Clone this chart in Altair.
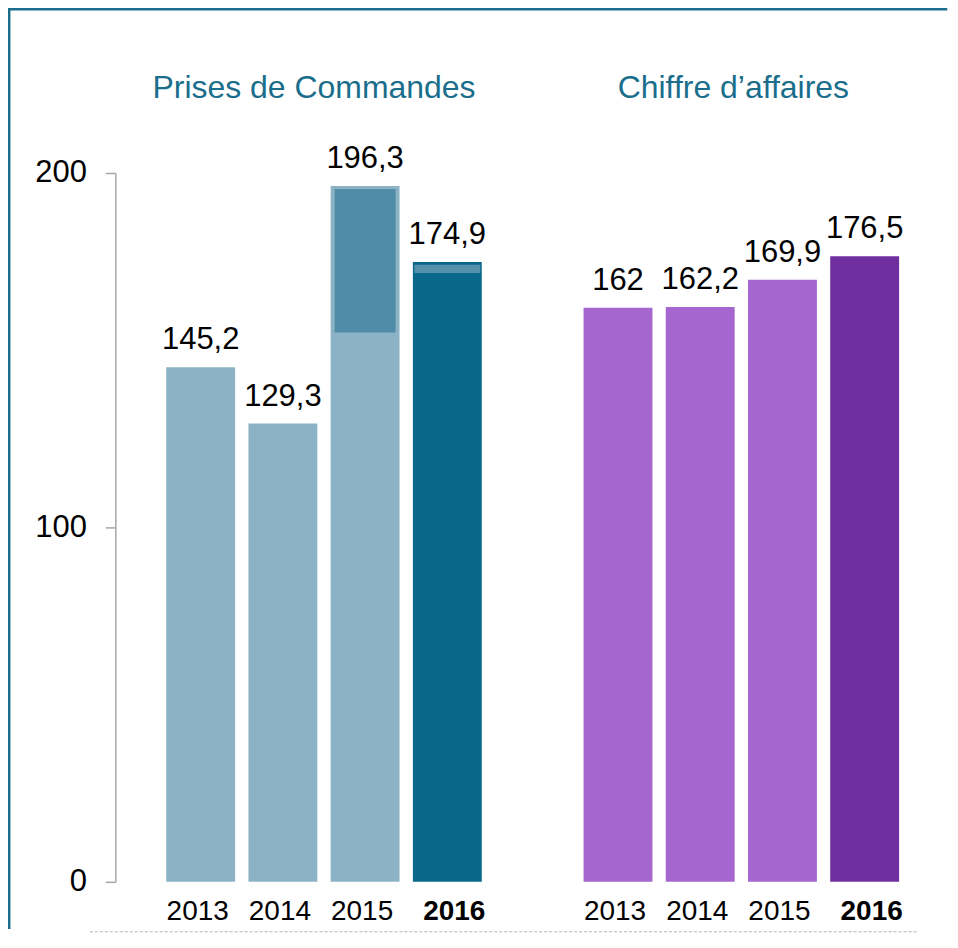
import altair as alt
import pandas as pd

# ---- data ----
years = ["2013", "2014", "2015", "2016"]

commandes = [145.2, 129.3, 196.3, 174.9]
commandes_labels = ["145,2", "129,3", "196,3", "174,9"]
commandes_colors = ["#8bb3c5", "#8bb3c5", "#8bb3c5", "#086889"]

ca = [162.0, 162.2, 169.9, 176.5]
ca_labels = ["162", "162,2", "169,9", "176,5"]
ca_colors = ["#a566d0", "#a566d0", "#a566d0", "#6f2f9f"]

# inner segments drawn inside the order-intake bars
seg_years = ["2015", "2016"]
seg_low = [155.0, 171.8]
seg_high = [195.5, 174.1]

title_left = "Prises de Commandes"
title_right = "Chiffre d’affaires"
y_ticks = [0, 100, 200]

FONT = "Liberation Sans"
TEAL = "#1a6e8c"

df_l = pd.DataFrame({"year": years, "value": commandes, "label": commandes_labels, "color": commandes_colors})
df_r = pd.DataFrame({"year": years, "value": ca, "label": ca_labels, "color": ca_colors})
df_seg = pd.DataFrame({"year": seg_years, "low": seg_low, "high": seg_high})
one = pd.DataFrame({"k": [0]})

W, H = 418, 710


def xenc():
    return alt.X(
        "year:N",
        sort=years,
        scale=alt.Scale(domain=years, paddingInner=0.162, paddingOuter=0.619),
        axis=alt.Axis(
            title=None, labelAngle=0, ticks=False, tickSize=0, domain=False,
            labelPadding=16, labelFontSize=28, labelFont=FONT, labelColor="black",
            labelFontWeight=alt.condition("datum.value == '2016'", alt.value("bold"), alt.value("normal")),
            labelOffset=alt.condition("datum.value == '2016'", alt.value(7), alt.value(-3)),
        ),
    )


def yscale():
    return alt.Scale(domain=[0, 200], nice=False, zero=True)


yaxis_left = alt.Axis(
    values=y_ticks, title=None, grid=False, labelFontSize=31, labelFont=FONT,
    labelColor="black", tickSize=10, labelPadding=19, domainColor="#a6a6a6",
    tickColor="#a6a6a6", domainWidth=1.5, tickWidth=1.5,
)


def panel(df, title_text, title_x, with_axis, extras):
    base = alt.Chart(df)
    yax = yaxis_left if with_axis else None
    bars = base.mark_bar().encode(
        x=xenc(),
        y=alt.Y("value:Q", scale=yscale(), axis=yax),
        color=alt.Color("color:N", scale=None),
    )
    labels = base.mark_text(dy=-18, baseline="alphabetic", fontSize=31, font=FONT, color="black").encode(
        x=xenc(),
        y=alt.Y("value:Q", scale=yscale()),
        text="label:N",
    )
    ttl = alt.Chart(pd.DataFrame({"t": [title_text]})).mark_text(
        fontSize=32, font=FONT, color=TEAL, align="center", baseline="alphabetic"
    ).encode(text="t:N", x=alt.value(title_x), y=alt.value(-75))
    return alt.layer(bars, *extras, labels, ttl).properties(width=W, height=H)


seg15 = alt.Chart(df_seg[df_seg.year == "2015"]).mark_bar(width=61, color="#4f8ca7").encode(
    x=xenc(), y=alt.Y("low:Q", scale=yscale()), y2="high:Q"
)
seg16 = alt.Chart(df_seg[df_seg.year == "2016"]).mark_bar(width=66, color="#5590aa").encode(
    x=xenc(), y=alt.Y("low:Q", scale=yscale()), y2="high:Q"
)

frame_top = alt.Chart(one).mark_rule(color=TEAL, strokeWidth=2.5, strokeCap="square").encode(
    x=alt.value(-106.3), x2=alt.value(832), y=alt.value(-164)
)
frame_left = alt.Chart(one).mark_rule(color=TEAL, strokeWidth=2.5, strokeCap="square").encode(
    x=alt.value(-106.3), y=alt.value(-164), y2=alt.value(756)
)
dashed = alt.Chart(one).mark_rule(color="#b5b5b5", strokeWidth=1, strokeDash=[3, 2]).encode(
    x=alt.value(-25.5), x2=alt.value(804.5), y=alt.value(760)
)

left = panel(df_l, title_left, 199, True, [seg15, seg16, frame_top, frame_left, dashed])
right = panel(df_r, title_right, 201, False, [])

chart = alt.hconcat(
    left, right, spacing=0, bounds="flush",
    padding={"left": -1.5, "top": -1.5, "right": 0, "bottom": 0},
).configure_view(stroke=None)

chart.save("out.html", embed_options={"renderer": "svg", "actions": False})
